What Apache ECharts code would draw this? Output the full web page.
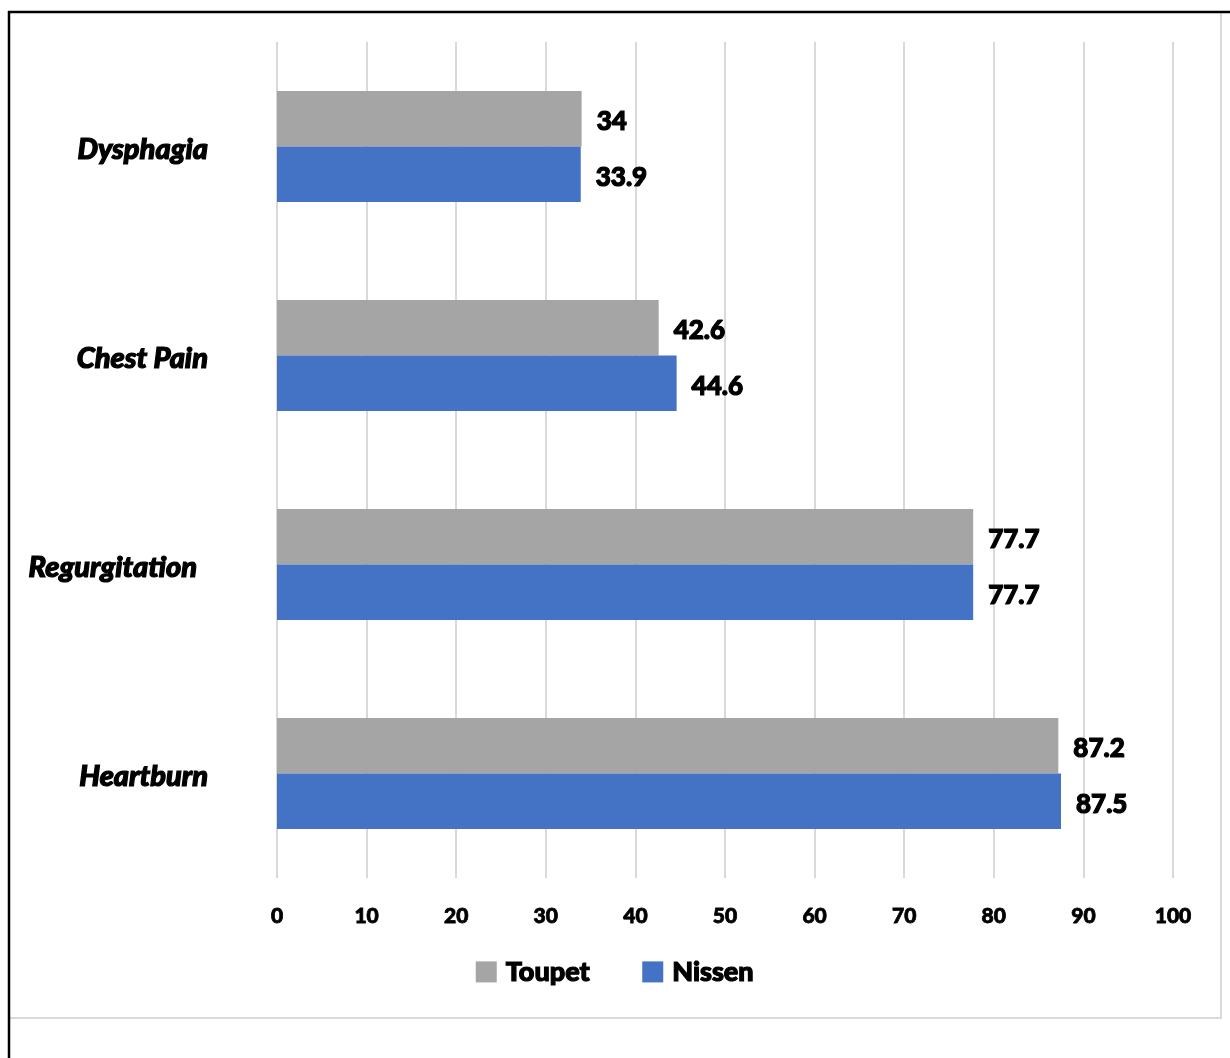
<!DOCTYPE html>
<html>
<head>
<meta charset="utf-8">
<script src="https://cdn.jsdelivr.net/npm/echarts@6/dist/echarts.min.js"></script>
<style>
html,body{margin:0;padding:0;background:#fff;}
#c{width:1230px;height:1058px;}
</style>
</head>
<body>
<div id="c"></div>
<script>
const categories = ['Dysphagia', 'Chest Pain', 'Regurgitation', 'Heartburn'];
const seriesNames = ['Toupet', 'Nissen'];
const toupet = [34, 42.6, 77.7, 87.2];
const nissen = [33.9, 44.6, 77.7, 87.5];
const xTicks = [0, 10, 20, 30, 40, 50, 60, 70, 80, 90, 100];

const FONT = 'Lato, "Open Sans", sans-serif';
const heavy = {fontFamily: FONT, fontWeight: 900, color: '#000', textBorderColor: '#000', textBorderWidth: 1.2};
const chart = echarts.init(document.getElementById('c'), null, {renderer: 'canvas'});
const labelStyle = Object.assign({
  show: true, position: 'right', distance: 15, offset: [0, 3], fontSize: 26
}, heavy);
chart.setOption({
  animation: false,
  backgroundColor: '#fff',
  grid: {left: 277, right: 57, top: 42, bottom: 180, containLabel: false},
  legend: {
    bottom: 67, left: 'center',
    itemWidth: 21, itemHeight: 21, itemGap: 52,
    icon: 'rect',
    textStyle: Object.assign({fontSize: 27, padding: [4, 0, 0, 4]}, heavy),
    data: seriesNames
  },
  xAxis: {
    type: 'value', min: 0, max: 100, interval: 10,
    axisLine: {show: false}, axisTick: {show: false},
    splitLine: {show: true, lineStyle: {color: '#d9d9d9', width: 2}},
    axisLabel: Object.assign({
      margin: 28, fontSize: 21,
      formatter: v => xTicks.includes(v) ? String(v) : ''
    }, heavy, {textBorderWidth: 0.8})
  },
  yAxis: {
    type: 'category', data: categories, inverse: true,
    axisLine: {show: false}, axisTick: {show: false},
    axisLabel: {
      margin: 69,
      formatter: v => v === 'Regurgitation' ? '{r|' + v + '}' : '{n|' + v + '}',
      rich: {
        n: Object.assign({fontSize: 29, fontStyle: 'italic', padding: [6, 0, 0, 0]}, heavy),
        r: Object.assign({fontSize: 29, fontStyle: 'italic', padding: [6, 11, 0, 0]}, heavy)
      }
    }
  },
  series: [
    {name: seriesNames[0], type: 'bar', data: toupet, barGap: '0%', barCategoryGap: '47%',
     itemStyle: {color: '#a5a5a5'}, label: labelStyle},
    {name: seriesNames[1], type: 'bar', data: nissen, barGap: '0%', barCategoryGap: '47%',
     itemStyle: {color: '#4472c4'}, label: labelStyle}
  ],
  graphic: [
    {type: 'line', shape: {x1: 1221, y1: 12, x2: 1221, y2: 1018}, style: {stroke: '#d9d9d9', lineWidth: 2}},
    {type: 'line', shape: {x1: 9, y1: 1018, x2: 1222, y2: 1018}, style: {stroke: '#d9d9d9', lineWidth: 2}},
    {type: 'line', shape: {x1: 8, y1: 12, x2: 1230, y2: 12}, style: {stroke: '#000', lineWidth: 2.5}},
    {type: 'line', shape: {x1: 9, y1: 11, x2: 9, y2: 1058}, style: {stroke: '#000', lineWidth: 2.5}}
  ]
});
</script>
</body>
</html>
